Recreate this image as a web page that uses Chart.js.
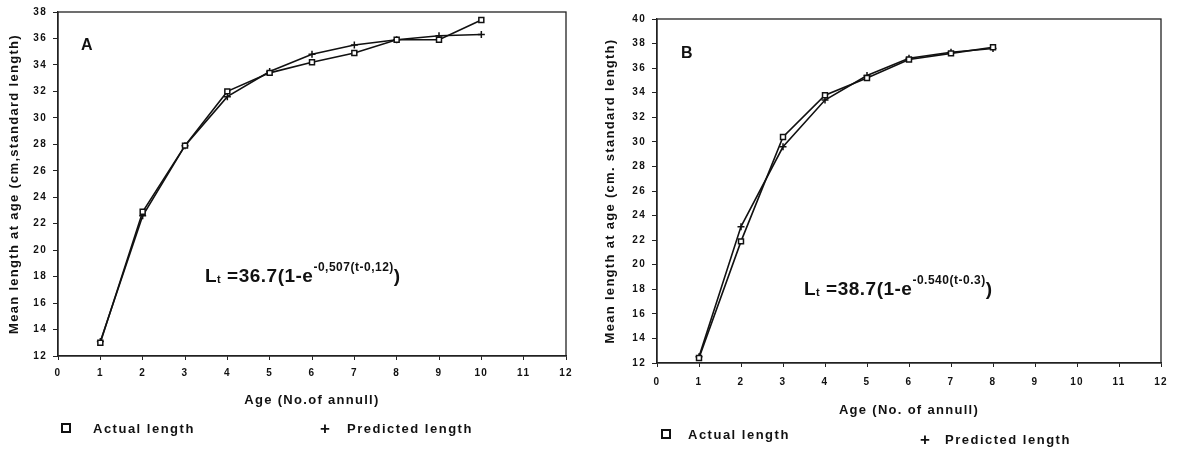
<!DOCTYPE html>
<html>
<head>
<meta charset="utf-8">
<script src="https://cdn.jsdelivr.net/npm/chart.js@4.4.0/dist/chart.umd.min.js"></script>
<style>
  body { margin: 0; background: #fff; width: 1177px; height: 451px; position: relative; overflow: hidden;
         font-family: "Liberation Sans", Arial, sans-serif; font-weight: bold; color: #111; }
  .panel { position: absolute; top: 0; height: 451px; }
  .txt { position: absolute; white-space: nowrap; }
  .leg { font-size: 13px; letter-spacing: 1.5px; }
  .mais { font-size: 17px; line-height: 15px; }
  .box { display: inline-block; width: 6px; height: 6px; border: 2px solid #111; }
  .formula { font-size: 19px; letter-spacing: 0.5px; }
  .formula sup { font-size: 12px; position: relative; top: -4px; }
  .formula sub { font-size: 11px; position: relative; top: -4px; }
  .tag { font-size: 16px; }
</style>
</head>
<body>
<div class="panel" id="panelA" style="left:0;width:590px"><canvas id="chartA"></canvas></div>
<div class="panel" id="panelB" style="left:590px;width:587px"><canvas id="chartB"></canvas></div>

<div class="txt tag" style="left:81px;top:36px">A</div>
<div class="txt tag" style="left:681px;top:44px">B</div>

<div class="txt formula" style="left:205px;top:264px">L<sub>t</sub> =36.7(1-e<sup>-0,507(t-0,12)</sup>)</div>
<div class="txt formula" style="left:804px;top:277px">L<sub>t</sub> =38.7(1-e<sup>-0.540(t-0.3)</sup>)</div>

<div class="txt leg" style="left:61px;top:421px"><span class="box"></span></div>
<div class="txt leg" style="left:93px;top:421px">Actual length</div>
<div class="txt leg mais" style="left:320px;top:421px">+</div>
<div class="txt leg" style="left:347px;top:421px">Predicted length</div>

<div class="txt leg" style="left:661px;top:427px"><span class="box"></span></div>
<div class="txt leg" style="left:688px;top:427px">Actual length</div>
<div class="txt leg mais" style="left:920px;top:432px">+</div>
<div class="txt leg" style="left:945px;top:432px">Predicted length</div>

<script>
// ages (No. of annuli)
const agesA = [1, 2, 3, 4, 5, 6, 7, 8, 9, 10];
const actualA = [13.0, 22.9, 27.9, 32.0, 33.4, 34.2, 34.9, 35.9, 35.9, 37.4];
const predictedA = [13.1, 22.6, 27.9, 31.6, 33.5, 34.8, 35.5, 35.9, 36.2, 36.3];

const agesB = [1, 2, 3, 4, 5, 6, 7, 8];
const actualB = [12.4, 21.9, 30.4, 33.8, 35.2, 36.7, 37.2, 37.7];
const predictedB = [12.5, 23.1, 29.6, 33.4, 35.4, 36.8, 37.3, 37.6];

const tituloX_A = 'Age (No.of annull)';
const tituloY_A = 'Mean length at age (cm,standard length)';
const tituloX_B = 'Age (No. of annull)';
const tituloY_B = 'Mean length at age (cm. standard length)';

Chart.defaults.font.family = '"Liberation Sans", Arial, sans-serif';
Chart.defaults.font.weight = 'bold';
Chart.defaults.color = '#111';
Chart.defaults.animation = false;

const moldura = {
    id: 'moldura',
    beforeDraw(chart) {
        chart.ctx.letterSpacing = '1.3px';
    },
    afterDatasetsDraw(chart) {
        const { ctx, chartArea: a } = chart;
        ctx.save();
        ctx.strokeStyle = '#222';
        ctx.lineWidth = 1.3;
        ctx.strokeRect(a.left, a.top, a.right - a.left, a.bottom - a.top);
        ctx.restore();
    }
};

function pontos(xs, ys) {
    return xs.map((x, i) => ({ x: x, y: ys[i] }));
}

function criarGrafico(id, idades, atual, previsto, cfg) {
    return new Chart(document.getElementById(id), {
        type: 'line',
        data: {
            datasets: [{
                label: 'Actual length',
                data: pontos(idades, atual),
                borderColor: '#111',
                borderWidth: 1.6,
                pointStyle: 'rect',
                pointRadius: 3.5,
                pointBackgroundColor: '#fff',
                pointBorderColor: '#111',
                pointBorderWidth: 1.5,
                tension: 0
            }, {
                label: 'Predicted length',
                data: pontos(idades, previsto),
                borderColor: '#111',
                borderWidth: 1.6,
                pointStyle: 'cross',
                pointRadius: 3.5,
                pointBorderColor: '#111',
                pointBorderWidth: 1.5,
                tension: 0
            }]
        },
        options: {
            responsive: true,
            maintainAspectRatio: false,
            layout: { padding: cfg.padding },
            plugins: { legend: { display: false }, tooltip: { enabled: false } },
            scales: {
                x: {
                    type: 'linear', min: 0, max: 12,
                    ticks: { stepSize: 1, font: { size: 10 }, padding: cfg.xPad },
                    grid: { drawOnChartArea: false, tickLength: 4, color: '#222' },
                    border: { color: '#222', width: 1.3 },
                    title: { display: true, text: cfg.tituloX, font: { size: 13 }, padding: 0 },
                    afterFit: s => { s.height = cfg.xAltura; }
                },
                y: {
                    min: 12, max: cfg.yMax,
                    ticks: { stepSize: 2, font: { size: 10 }, padding: 6 },
                    grid: { drawOnChartArea: false, tickLength: 5, color: '#222' },
                    border: { color: '#222', width: 1.3 },
                    title: { display: true, text: cfg.tituloY, font: { size: 13 }, padding: { top: cfg.yTituloPad, bottom: 0 } },
                    afterFit: s => { s.width = cfg.yLargura; }
                }
            }
        },
        plugins: [moldura]
    });
}

criarGrafico('chartA', agesA, actualA, predictedA, {
    padding: { left: 0, top: 11, right: 24, bottom: 43 },
    xAltura: 52, yLargura: 58, yTituloPad: 7, xPad: 7, yMax: 38,
    tituloX: tituloX_A, tituloY: tituloY_A
});

criarGrafico('chartB', agesB, actualB, predictedB, {
    padding: { left: 0, top: 19, right: 16, bottom: 33 },
    xAltura: 55, yLargura: 67, yTituloPad: 13, xPad: 9, yMax: 40,
    tituloX: tituloX_B, tituloY: tituloY_B
});
</script>
</body>
</html>
